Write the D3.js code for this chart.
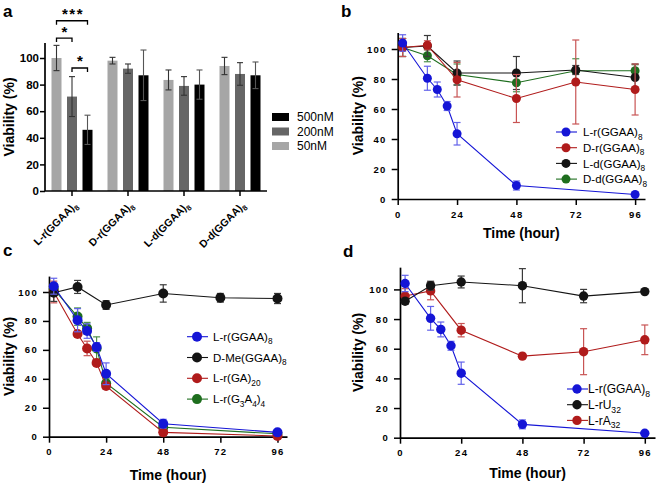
<!DOCTYPE html>
<html><head><meta charset="utf-8">
<script src="https://cdn.jsdelivr.net/npm/d3@7"></script>
<style>
body{margin:0;background:#fff}
svg{display:block;font-family:"Liberation Sans",Arial,Helvetica,sans-serif}
</style>
</head><body>
<svg width="661" height="484"></svg>
<script>
// ---------------- DATA ----------------
// Panel a (bar chart)
const groupsA = ["L-r(GGAA)_8", "D-r(GGAA)_8", "L-d(GGAA)_8", "D-d(GGAA)_8"];
const concA = ["50nM", "200nM", "500nM"];
const viab50 = [100, 98, 83.5, 94];
const err50 = [9.5, 2.5, 7.5, 6.5];
const viab200 = [71, 92, 79, 88];
const err200 = [15, 3.5, 7, 8.5];
const viab500 = [46, 87, 80, 87];
const err500 = [11, 19, 11, 10];
const yTicksA = [0, 20, 40, 60, 80, 100];
// significance brackets: [from, to, label, level]
const sigFrom = ["50nM", "50nM", "200nM"];
const sigTo = ["500nM", "200nM", "500nM"];
const sigLabel = ["***", "*", "*"];
const sigLevel = [128, 115, 92.5];

// Time-course panels
const timeTicks = [0, 24, 48, 72, 96];
const yTicksLine = [0, 20, 40, 60, 80, 100];
const t7 = [2, 12, 16, 20, 24, 48, 96];
const t6 = [2, 12, 24, 48, 72, 96];

// L-r(GGAA)8 (shared by b, c, d)
const vLr = [104, 80.5, 73, 62, 43.5, 9, 3];
const eLr = [5.5, 8, 5, 3, 7.5, 3, 1];
// Panel b
const vDr = [101, 102.5, 79.5, 67, 78, 73];
const eDr = [6, 3, 11.5, 16, 28, 17];
const vLd = [101, 102, 84, 84, 86, 81];
const eLd = [6, 7, 8, 11, 3, 9];
const vDd = [101, 95.5, 83, 77.5, 85.5, 85.5];
const eDd = [6, 4, 7, 6, 8, 4];
// Panel c
const vDMe = [99.5, 103.5, 91, 99, 96, 95.5];
const eDMe = [6, 4.5, 3, 6, 3, 3.5];
const vGA = [100, 71, 61, 51, 35, 3, 0.5];
const eGA = [7.5, 2, 5, 1, 2, 1, 0.5];
const vG3A4 = [102, 83, 75, 61, 37, 6.5, 2];
const eG3A4 = [4, 6, 4, 8, 3, 1, 0.5];
// Panel d
const vU32 = [92, 102.5, 105, 102.5, 95.5, 98.5];
const eU32 = [2, 3, 4, 11.5, 4.5, 1];
const vA32 = [95.5, 99, 72.5, 55, 58, 66];
const eA32 = [5, 6, 4.5, 1, 15.5, 10];

// ---------------- STYLE ----------------
const BLUE = "#1515d6", RED = "#b01b1b", BLACK = "#141414", GREEN = "#1e6e1e";
const ERRC = {[BLUE]: "#6262ea", [RED]: "#c85454", [BLACK]: "#3a3a3a", [GREEN]: "#4f924f"};
const barColor = {"50nM": "#a6a6a6", "200nM": "#666666", "500nM": "#000000"};

const svg = d3.select("svg");

function rich(textSel, str, fs) {
  const parts = str.split(/_(\d+)/);
  let shifted = false;
  parts.forEach((p, i) => {
    if (i % 2 === 1) {
      textSel.append("tspan").attr("font-size", fs * 0.72).attr("dy", fs * 0.3).text(p);
      shifted = true;
    } else if (p.length) {
      textSel.append("tspan").attr("font-size", fs).attr("dy", shifted ? -fs * 0.3 : 0).text(p);
      shifted = false;
    }
  });
  return textSel;
}

function panelLetter(x, y, s) {
  svg.append("text").attr("x", x).attr("y", y).attr("font-size", 17).attr("font-weight", "bold").text(s);
}

function yLabel(x, y) {
  svg.append("text").attr("transform", `translate(${x},${y}) rotate(-90)`)
    .attr("text-anchor", "middle").attr("font-size", 14).attr("font-weight", "bold").text("Viability (%)");
}

function styleAxis(g) {
  g.select(".domain").attr("stroke", "#000").attr("stroke-width", 1.7);
  g.selectAll(".tick line").attr("stroke", "#000").attr("stroke-width", 1.5);
  g.selectAll(".tick text").attr("fill", "#000");
}

// ---------------- PANEL A ----------------
(function () {
  const x = d3.scaleBand().domain(groupsA).range([44, 268]);
  const y = d3.scaleLinear().domain([0, 110]).range([191, 44.7]);
  const off = d3.scalePoint().domain(concA).range([-15.5, 15.5]);
  const bw = 10;
  const series = [
    {key: "50nM", v: viab50, e: err50},
    {key: "200nM", v: viab200, e: err200},
    {key: "500nM", v: viab500, e: err500}
  ];
  const cx = (g, c) => x(g) + x.bandwidth() / 2 + off(c);
  series.forEach(s => {
    groupsA.forEach((g, i) => {
      svg.append("rect").attr("x", cx(g, s.key) - bw / 2).attr("y", y(s.v[i]))
        .attr("width", bw).attr("height", y(0) - y(s.v[i])).attr("fill", barColor[s.key]);
      const ex = cx(g, s.key);
      const eg = svg.append("g").attr("stroke", s.key === "500nM" ? "#555" : "#333").attr("stroke-width", 1.1);
      eg.append("line").attr("x1", ex).attr("x2", ex).attr("y1", y(s.v[i] - s.e[i])).attr("y2", y(s.v[i] + s.e[i]));
      [s.v[i] - s.e[i], s.v[i] + s.e[i]].forEach(val => {
        eg.append("line").attr("x1", ex - 3).attr("x2", ex + 3).attr("y1", y(val)).attr("y2", y(val));
      });
    });
  });
  // axes
  const ga = svg.append("g").attr("transform", "translate(45,0)")
    .call(d3.axisLeft(y).tickValues(yTicksA).tickSize(5).tickSizeOuter(0).tickPadding(1));
  ga.selectAll(".tick text").attr("font-size", 11.5).attr("font-weight", "bold");
  styleAxis(ga);
  ga.select(".domain").attr("d", `M0,${y(0)}V43`);
  const gx = svg.append("g").attr("transform", `translate(0,${y(0)})`)
    .call(d3.axisBottom(x).tickSize(5).tickSizeOuter(0).tickFormat(""));
  styleAxis(gx);
  gx.select(".domain").attr("d", "M45,0H267");
  groupsA.forEach(g => {
    const t = svg.append("text").attr("text-anchor", "end").attr("font-weight", "bold")
      .attr("transform", `translate(${x(g) + x.bandwidth() / 2 + 6},${y(0) + 15}) rotate(-45)`);
    rich(t, g, 10.5);
  });
  // significance
  sigFrom.forEach((f, i) => {
    const g0 = groupsA[0];
    const x1 = cx(g0, f), x2 = cx(g0, sigTo[i]), yy = y(sigLevel[i]);
    svg.append("path").attr("d", `M${x1},${yy + 4}V${yy}H${x2}V${yy + 4}`)
      .attr("fill", "none").attr("stroke", "#000").attr("stroke-width", 1.3);
    svg.append("text").attr("x", (x1 + x2) / 2 + 1).attr("y", yy - 1.5).attr("text-anchor", "middle")
      .attr("font-size", 15).attr("font-weight", "bold").style("letter-spacing", "1.5px").text(sigLabel[i]);
  });
  // legend
  const legOrder = ["500nM", "200nM", "50nM"];
  legOrder.forEach((k, i) => {
    const yy = 117 + i * 14.5;
    svg.append("rect").attr("x", 272).attr("y", yy - 4).attr("width", 17).attr("height", 8).attr("fill", barColor[k]);
    svg.append("text").attr("x", 297).attr("y", yy + 4.3).attr("font-size", 12).text(k);
  });
  yLabel(14, 117);
  panelLetter(3, 17, "a");
})();

// ---------------- LINE PANELS ----------------
function linePanel(cfg) {
  const x = d3.scaleLinear().domain([0, 100]).range([cfg.x0, cfg.x1]);
  const y = d3.scaleLinear().domain([0, cfg.yMax]).range([cfg.yBase, cfg.yBase - cfg.px100 * cfg.yMax / 100]);
  const gy = svg.append("g").attr("transform", `translate(${cfg.x0},0)`)
    .call(d3.axisLeft(y).tickValues(yTicksLine).tickSize(6).tickSizeOuter(0).tickPadding(5));
  gy.selectAll(".tick text").attr("font-size", 9.5).attr("font-weight", "bold").style("letter-spacing", "1.3px");
  styleAxis(gy);
  const gx = svg.append("g").attr("transform", `translate(0,${cfg.yBase})`)
    .call(d3.axisBottom(x).tickValues(timeTicks).tickSize(6).tickSizeOuter(0).tickPadding(6));
  gx.selectAll(".tick text").attr("font-size", 9.5).attr("font-weight", "bold").style("letter-spacing", "1.3px");
  styleAxis(gx);
  svg.append("text").attr("x", (cfg.x0 + cfg.x1) / 2).attr("y", cfg.titleY).attr("text-anchor", "middle")
    .attr("font-size", 14).attr("font-weight", "bold").text("Time (hour)");

  const line = d3.line().x(d => x(d.t)).y(d => y(d.v));
  const draw = cfg.series.slice().reverse();
  draw.forEach(s => {
    const pts = s.t.map((t, i) => ({t, v: s.v[i], e: s.e[i]}));
    svg.append("path").datum(pts).attr("d", line).attr("fill", "none").attr("stroke", s.c).attr("stroke-width", 1.1);
    const eg = svg.append("g").attr("stroke", ERRC[s.c]).attr("stroke-width", 1.2);
    pts.forEach(p => {
      const xx = x(p.t);
      eg.append("line").attr("x1", xx).attr("x2", xx).attr("y1", y(p.v - p.e)).attr("y2", y(p.v + p.e));
      [p.v - p.e, p.v + p.e].forEach(val => {
        eg.append("line").attr("x1", xx - 3.5).attr("x2", xx + 3.5).attr("y1", y(val)).attr("y2", y(val));
      });
    });
    svg.append("g").selectAll("circle").data(pts).join("circle")
      .attr("cx", d => x(d.t)).attr("cy", d => y(d.v)).attr("r", cfg.r).attr("fill", s.c);
  });
  // legend
  const L = cfg.legend;
  cfg.series.forEach((s, i) => {
    const yy = L.y + i * L.dy;
    svg.append("line").attr("x1", L.mx - 10).attr("x2", L.mx + 11).attr("y1", yy).attr("y2", yy)
      .attr("stroke", s.c).attr("stroke-width", 1.1);
    svg.append("circle").attr("cx", L.mx).attr("cy", yy).attr("r", cfg.r).attr("fill", s.c);
    const t = svg.append("text").attr("x", L.tx).attr("y", yy + L.fs * 0.36);
    rich(t, s.name, L.fs);
  });
  yLabel(cfg.yLabX, (cfg.yBase + y(cfg.yMax)) / 2);
}

linePanel({
  x0: 397.7, x1: 645, yBase: 199, px100: 150, yMax: 111, titleY: 238, yLabX: 363, r: 4.5,
  series: [
    {name: "L-r(GGAA)_8", t: t7, v: vLr, e: eLr, c: BLUE},
    {name: "D-r(GGAA)_8", t: t6, v: vDr, e: eDr, c: RED},
    {name: "L-d(GGAA)_8", t: t6, v: vLd, e: eLd, c: BLACK},
    {name: "D-d(GGAA)_8", t: t6, v: vDd, e: eDd, c: GREEN}
  ],
  legend: {mx: 566, tx: 583, y: 132, dy: 15.7, fs: 11.5}
});
panelLetter(341, 17, "b");

linePanel({
  x0: 49, x1: 287, yBase: 436.7, px100: 144.7, yMax: 111, titleY: 480, yLabX: 14, r: 5,
  series: [
    {name: "L-r(GGAA)_8", t: t7, v: vLr, e: eLr, c: BLUE},
    {name: "D-Me(GGAA)_8", t: t6, v: vDMe, e: eDMe, c: BLACK},
    {name: "L-r(GA)_20", t: t7, v: vGA, e: eGA, c: RED},
    {name: "L-r(G_3A_4)_4", t: t7, v: vG3A4, e: eG3A4, c: GREEN}
  ],
  legend: {mx: 197, tx: 213, y: 336.7, dy: 20.8, fs: 11.5}
});
panelLetter(3, 256, "c");

linePanel({
  x0: 400, x1: 655, yBase: 437.7, px100: 148.3, yMax: 115, titleY: 478, yLabX: 363, r: 4.7,
  series: [
    {name: "L-r(GGAA)_8", t: t7, v: vLr, e: eLr, c: BLUE},
    {name: "L-rU_32", t: t6, v: vU32, e: eU32, c: BLACK},
    {name: "L-rA_32", t: t6, v: vA32, e: eA32, c: RED}
  ],
  legend: {mx: 577, tx: 588, y: 389, dy: 15.7, fs: 12}
});
panelLetter(343, 257, "d");
</script>
</body></html>
